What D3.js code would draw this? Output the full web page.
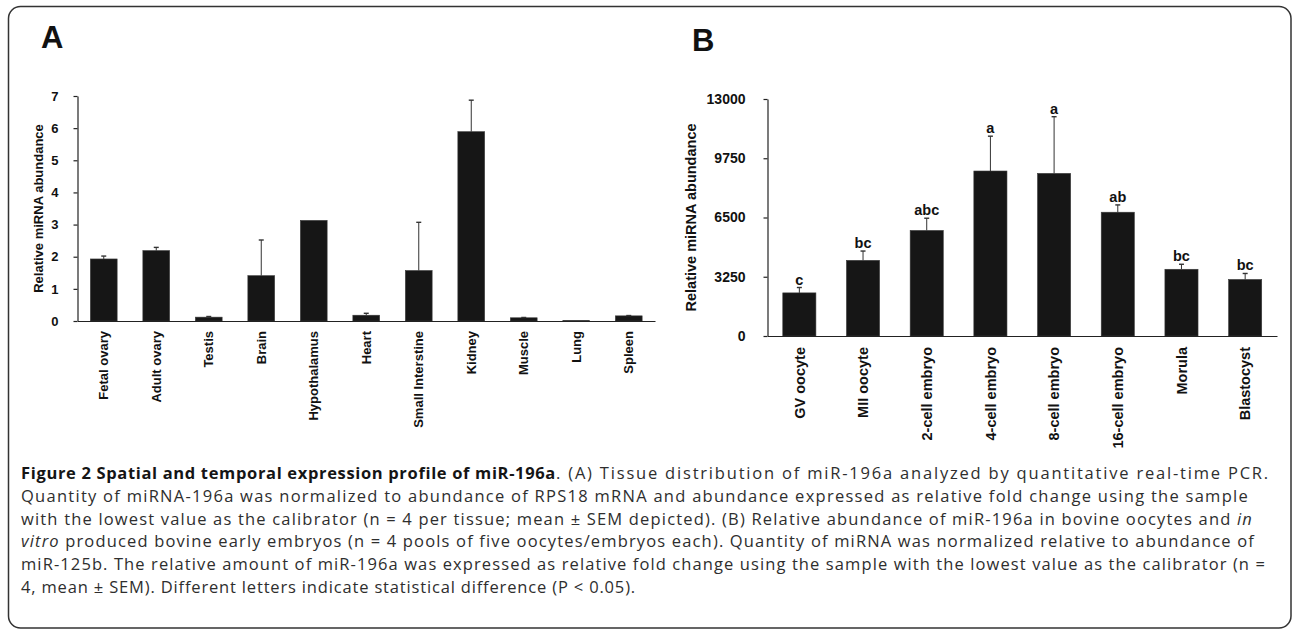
<!DOCTYPE html>
<html>
<head>
<meta charset="utf-8">
<script src="https://cdn.jsdelivr.net/npm/d3@7"></script>
<style>
  body { margin: 0; background: #fff; }
  svg { display: block; }
</style>
</head>
<body>
<svg id="fig" width="1293" height="630"></svg>
<script>
// --- panel A : tissue distribution
const tissueNames = ["Fetal ovary", "Adult ovary", "Testis", "Brain", "Hypothalamus", "Heart",
  "Small Interstine", "Kidney", "Muscle", "Lung", "Spleen"];
const tissueMeans = [1.93, 2.19, 0.12, 1.41, 3.13, 0.18, 1.57, 5.89, 0.10, 0.01, 0.16];
const tissueSem = [0.09, 0.10, 0.02, 1.11, 0, 0.06, 1.50, 0.98, 0.01, 0, 0.01];
const tissueTicks = [0, 1, 2, 3, 4, 5, 6, 7];

// --- panel B : oocytes / embryos
const stageNames = ["GV oocyte", "MII oocyte", "2-cell embryo", "4-cell embryo", "8-cell embryo",
  "16-cell embryo", "Morula", "Blastocyst"];
const stageMeans = [2365, 4150, 5790, 9050, 8920, 6790, 3660, 3100];
const stageSem = [295, 510, 670, 1910, 3110, 400, 275, 330];
const stageLetters = ["c", "bc", "abc", "a", "a", "ab", "bc", "bc"];
const stageTicks = [0, 3250, 6500, 9750, 13000];

// --- caption (b = bold, r = regular, i = italic)
const captionLines = [
  [["b", "Figure 2 Spatial and temporal expression profile of miR-196a"], ["r", ". (A) Tissue distribution of miR-196a analyzed by quantitative real-time PCR."]],
  [["r", "Quantity of miRNA-196a was normalized to abundance of RPS18 mRNA and abundance expressed as relative fold change using the sample"]],
  [["r", "with the lowest value as the calibrator (n = 4 per tissue; mean \u00b1 SEM depicted). (B) Relative abundance of miR-196a in bovine oocytes and "], ["i", "in"]],
  [["i", "vitro"], ["r", " produced bovine early embryos (n = 4 pools of five oocytes/embryos each). Quantity of miRNA was normalized relative to abundance of"]],
  [["r", "miR-125b. The relative amount of miR-196a was expressed as relative fold change using the sample with the lowest value as the calibrator (n ="]],
  [["r", "4, mean \u00b1 SEM). Different letters indicate statistical difference (P < 0.05)."]]
];

const svg = d3.select("#fig");
const chartFont = "'Liberation Sans', Arial, Helvetica, sans-serif";

// cadre arrondi
svg.append("rect")
  .attr("x", 8.5).attr("y", 6.5)
  .attr("width", 1282.5).attr("height", 621.5)
  .attr("rx", 12)
  .attr("fill", "none")
  .attr("stroke", "#333")
  .attr("stroke-width", 1.5);

function drawPanel(opt) {
  const g = svg.append("g").style("font-family", chartFont);

  const x = d3.scaleBand()
    .domain(opt.names)
    .range([opt.left, opt.right])
    .paddingInner(opt.pad)
    .paddingOuter(opt.pad / 2);

  const y = d3.scaleLinear()
    .domain([0, opt.ticks[opt.ticks.length - 1]])
    .range([opt.bottom, opt.top]);

  const data = opt.names.map((n, i) => ({ name: n, v: opt.means[i], e: opt.sem[i], lab: opt.letters ? opt.letters[i] : null }));

  // bars
  g.selectAll("rect.bar")
    .data(data)
    .enter().append("rect")
    .attr("class", "bar")
    .attr("x", d => x(d.name))
    .attr("width", x.bandwidth())
    .attr("y", d => y(d.v))
    .attr("height", d => y(0) - y(d.v))
    .attr("fill", "#161616")
    .attr("stroke", "#3a3a3a")
    .attr("stroke-width", 0.6);

  // error bars (upper only)
  const withErr = data.filter(d => d.e > 0);
  g.selectAll("line.err")
    .data(withErr)
    .enter().append("line")
    .attr("x1", d => x(d.name) + x.bandwidth() / 2)
    .attr("x2", d => x(d.name) + x.bandwidth() / 2)
    .attr("y1", d => y(d.v))
    .attr("y2", d => y(d.v + d.e))
    .attr("stroke", "#333")
    .attr("stroke-width", 1);
  g.selectAll("line.cap")
    .data(withErr)
    .enter().append("line")
    .attr("x1", d => x(d.name) + x.bandwidth() / 2 - 2.5)
    .attr("x2", d => x(d.name) + x.bandwidth() / 2 + 2.5)
    .attr("y1", d => y(d.v + d.e))
    .attr("y2", d => y(d.v + d.e))
    .attr("stroke", "#333")
    .attr("stroke-width", 1.4);

  // significance letters
  if (opt.letters) {
    g.selectAll("text.letter")
      .data(data)
      .enter().append("text")
      .attr("x", d => x(d.name) + x.bandwidth() / 2)
      .attr("y", d => y(d.v + d.e) - 3)
      .attr("text-anchor", "middle")
      .style("font-size", opt.fs + "px")
      .style("font-weight", "bold")
      .attr("fill", "#111")
      .text(d => d.lab);
  }

  // axes
  const yAxis = g.append("g")
    .attr("transform", `translate(${opt.left},0)`)
    .call(d3.axisLeft(y).tickValues(opt.ticks).tickFormat(d3.format("d"))
      .tickSize(4).tickSizeOuter(0).tickPadding(opt.tickPad));
  yAxis.selectAll("text")
    .style("font-size", opt.tickFs + "px")
    .style("font-weight", "bold")
    .style("font-family", chartFont)
    .attr("fill", "#111");
  yAxis.selectAll("path, line").attr("stroke", "#222").attr("stroke-width", 1.2);

  const xAxis = g.append("g")
    .attr("transform", `translate(0,${opt.bottom})`)
    .call(d3.axisBottom(x).tickSize(0).tickSizeOuter(0));
  xAxis.select("path").attr("stroke", "#222").attr("stroke-width", 1.2);
  xAxis.selectAll("text")
    .attr("transform", "rotate(-90)")
    .attr("x", -opt.labGap)
    .attr("y", 0)
    .attr("dy", "0.36em")
    .attr("text-anchor", "end")
    .style("font-size", opt.fs + "px")
    .style("font-weight", "bold")
    .style("font-family", chartFont)
    .attr("fill", "#111");

  // titre axe y
  g.append("text")
    .attr("transform", `translate(${opt.ylabX},${(opt.top + opt.bottom) / 2}) rotate(-90)`)
    .attr("text-anchor", "middle")
    .style("font-size", opt.fs + "px")
    .style("font-weight", "bold")
    .attr("fill", "#111")
    .text("Relative miRNA abundance");

  // lettre du panneau
  g.append("text")
    .attr("x", opt.tagX).attr("y", opt.tagY)
    .style("font-size", "31px")
    .style("font-weight", "bold")
    .attr("fill", "#111")
    .text(opt.tag);
}

drawPanel({
  names: tissueNames, means: tissueMeans, sem: tissueSem, ticks: tissueTicks,
  left: 77.5, right: 655, top: 96, bottom: 321, pad: 0.49,
  tickPad: 15, tickFs: 13, fs: 13, labGap: 10, ylabX: 42.5,
  tag: "A", tagX: 41, tagY: 48
});

drawPanel({
  names: stageNames, means: stageMeans, sem: stageSem, ticks: stageTicks, letters: stageLetters,
  left: 767.5, right: 1277, top: 99, bottom: 336, pad: 0.48,
  tickPad: 18, tickFs: 14, fs: 14.5, labGap: 11, ylabX: 695.5,
  tag: "B", tagX: 692, tagY: 51
});

// caption
const capX = 21;
const capBase = 479;
const capStep = 22.8;
const capEnds = [1270, 1249, 1253, 1255, 1266, 636];
const boldEnd = 556;

const cap = svg.append("g")
  .style("font-family", "'Open Sans', 'Noto Sans', sans-serif")
  .style("font-size", "16.5px");

const capTexts = captionLines.map((segs, i) => {
  const t = cap.append("text")
    .attr("x", capX)
    .attr("y", capBase + i * capStep)
    .attr("fill", "#2e2e2e");
  segs.forEach(([style, s]) => {
    t.append("tspan")
      .style("font-weight", style === "b" ? "bold" : "normal")
      .style("font-style", style === "i" ? "italic" : "normal")
      .attr("fill", style === "b" ? "#151515" : null)
      .text(s);
  });
  return t;
});

// lignes 2 a 6 : espacement pour finir la ligne au bon endroit
[1, 2, 3, 4, 5].forEach(i => {
  const t = capTexts[i];
  const nChars = captionLines[i].reduce((a, s) => a + s[1].length, 0);
  const extra = (capEnds[i] - capX - t.node().getComputedTextLength()) / nChars;
  t.selectAll("tspan").attr("letter-spacing", extra + "px");
});

// ligne 1 : partie grasse puis le reste
{
  const t = capTexts[0];
  const spans = t.selectAll("tspan");
  const bold = spans.filter((d, k) => k === 0);
  const boldTxt = captionLines[0][0][1];
  const boldW = bold.node().getComputedTextLength();
  bold.attr("letter-spacing", ((boldEnd - capX - boldW) / boldTxt.length) + "px");
  const rest = spans.filter((d, k) => k === 1);
  const restChars = captionLines[0][1][1].length;
  const extra = (capEnds[0] - capX - t.node().getComputedTextLength()) / restChars;
  rest.attr("letter-spacing", extra + "px");
}
</script>
</body>
</html>
